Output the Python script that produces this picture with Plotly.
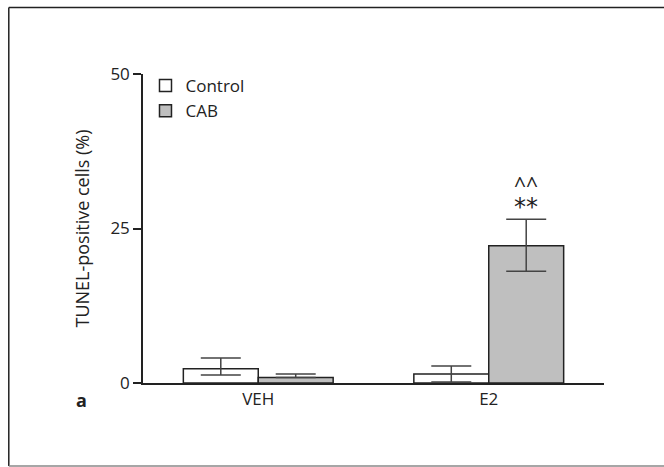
import plotly.graph_objects as go

categories = ["VEH", "E2"]
control_vals = [2.3, 1.45]
control_err_plus = [1.75, 1.3]
control_err_minus = [1.0, 1.3]
cab_vals = [0.9, 22.2]
cab_err_plus = [0.55, 4.3]
cab_err_minus = [0.0, 4.1]
y_ticks = [0, 25, 50]

FONT = "Open Sans, Liberation Sans, sans-serif"

fig = go.Figure()
fig.add_trace(go.Bar(
    name="Control", x=categories, y=control_vals,
    marker=dict(color="white", line=dict(color="#222", width=1.5)),
    error_y=dict(type="data", symmetric=False, array=control_err_plus,
                 arrayminus=control_err_minus, color="#444", thickness=1.5, width=20),
))
fig.add_trace(go.Bar(
    name="CAB", x=categories, y=cab_vals,
    marker=dict(color="#bfbfbf", line=dict(color="#222", width=1.5)),
    error_y=dict(type="data", symmetric=False, array=cab_err_plus,
                 arrayminus=cab_err_minus, color="#444", thickness=1.5, width=20),
))

W, H = 664, 467
L, R, T, B = 142.5, 664 - 604.5, 74, 467 - 383
pw, ph = W - L - R, H - T - B

def px(x):
    return (x - L) / pw

def py(y):
    return (H - B - y) / ph

fig.update_layout(
    width=W, height=H,
    margin=dict(l=L, r=R, t=T, b=B, pad=0),
    paper_bgcolor="white", plot_bgcolor="white",
    barmode="group", bargap=0.35, bargroupgap=0,
    font=dict(family=FONT, size=17, color="#222"),
    showlegend=True,
    legend=dict(x=px(145), y=py(68), xanchor="left", yanchor="top",
                bgcolor="rgba(0,0,0,0)", font=dict(size=17, family=FONT),
                tracegroupgap=0),
    xaxis=dict(range=[-0.5, 1.5], showline=True, linecolor="#222", linewidth=1.5,
               ticks="", showgrid=False, zeroline=False,
               tickfont=dict(size=17, family=FONT)),
    yaxis=dict(range=[0, 50], tickvals=y_ticks, showline=True, linecolor="#222",
               linewidth=1.5, ticks="outside", ticklen=8, tickwidth=1.5,
               tickcolor="#222", showgrid=False, zeroline=False,
               tickfont=dict(size=17, family=FONT),
               title=dict(text="TUNEL-positive cells (%)", font=dict(size=18, family=FONT),
                          standoff=16)),
)

# significance marks above E2 / CAB bar (one text block, two lines)
fig.add_annotation(
    x=1, xshift=37.5, y=cab_vals[1] + cab_err_plus[1], yshift=-4,
    xanchor="center", yanchor="bottom",
    text="<span style='font-size:21px'>^^</span><br>"
         "<span style='font-family:DejaVu Sans;font-size:24px'>**</span>",
    showarrow=False, font=dict(size=17, family=FONT, color="#222"))

# panel letter
fig.add_annotation(xref="paper", yref="paper", x=px(81), y=py(400), text="<b>a</b>",
                   xanchor="center", yanchor="middle",
                   showarrow=False, font=dict(size=18, family=FONT, color="#222"))

# figure frame
fig.add_shape(type="line", xref="paper", yref="paper", x0=px(8), x1=px(700), y0=py(7.5), y1=py(7.5),
              line=dict(color="#222", width=1.5))
fig.add_shape(type="line", xref="paper", yref="paper", x0=px(8), x1=px(8), y0=py(7.5), y1=py(466),
              line=dict(color="#222", width=1.5))
fig.add_shape(type="line", xref="paper", yref="paper", x0=px(8), x1=px(700), y0=py(466), y1=py(466),
              line=dict(color="#888", width=1.5))

fig.write_html("out.html")
